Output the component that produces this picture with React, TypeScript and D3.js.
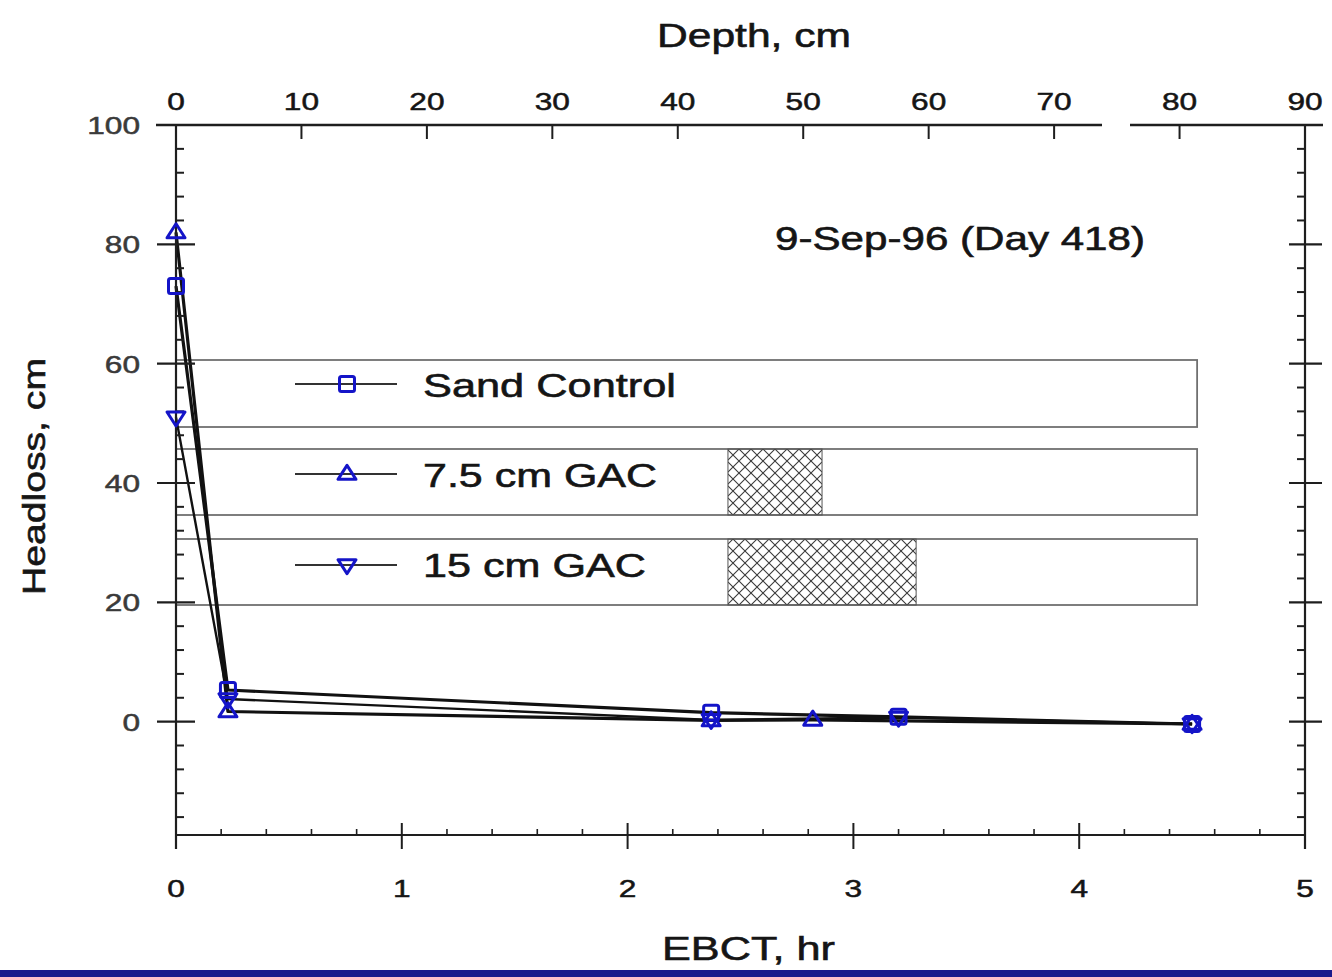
import React from "react";
import * as d3 from "d3";

// ---- data ----
const ebctTicks = [0, 1, 2, 3, 4, 5];
const depthTicks = [0, 10, 20, 30, 40, 50, 60, 70, 80, 90];
const headlossTicks = [0, 20, 40, 60, 80, 100];

const seriesNames = ["Sand Control", "7.5 cm GAC", "15 cm GAC"];
const seriesMarkers = ["square", "triangleUp", "triangleDown"];

const sandEBCT = [0, 0.23, 2.37, 3.2, 4.5];
const sandHeadloss = [73, 5.3, 1.5, 0.8, -0.4];
const gac75EBCT = [0, 0.23, 2.37, 2.82, 4.5];
const gac75Headloss = [82, 1.7, 0.2, 0.3, -0.4];
const gac15EBCT = [0, 0.23, 2.37, 3.2, 4.5];
const gac15Headloss = [51, 3.8, 0.3, 0.7, -0.4];

// column diagram (depth, cm)
const columnDepth = 81.4;
const gacTop = 44;
const gacLengths = [0, 7.5, 15];

const dateLabel = "9-Sep-96 (Day 418)";

// ---- layout ----
const W = 1332;
const H = 977;
const L = 176, R = 1305, T = 125, B = 835;

const x = d3.scaleLinear().domain([0, 5]).range([L, R]);
const xDepth = d3.scaleLinear().domain([0, 90]).range([L, R]);
const y = d3.scaleLinear().domain([-19, 100]).range([B, T]);

const BLUE = "#1414c8";
const AX = "#1e1e1e";
const FONT = "'Liberation Sans', Arial, Helvetica, sans-serif";

function Marker({ type, cx, cy }: { type: string; cx: number; cy: number }) {
  if (type === "square") {
    const s = 15;
    return <rect x={cx - s / 2} y={cy - s / 2} width={s} height={s} rx={2} fill="none" stroke={BLUE} strokeWidth={3} />;
  }
  const w = 18, h = 14;
  const pts =
    type === "triangleUp"
      ? `${cx},${cy - h * 0.62} ${cx - w / 2},${cy + h * 0.38} ${cx + w / 2},${cy + h * 0.38}`
      : `${cx},${cy + h * 0.62} ${cx - w / 2},${cy - h * 0.38} ${cx + w / 2},${cy - h * 0.38}`;
  return <polygon points={pts} fill="none" stroke={BLUE} strokeWidth={3} strokeLinejoin="round" />;
}

function FitText({ x0, x1, baseline, text, size, fill = "#151515" }: any) {
  return (
    <text x={x0} y={baseline} fontSize={size} fontFamily={FONT} fill={fill}
      stroke={fill} strokeWidth={0.6}
      textLength={x1 - x0} lengthAdjust="spacingAndGlyphs">{text}</text>
  );
}

export default function App() {
  const series = [
    { e: sandEBCT, h: sandHeadloss },
    { e: gac75EBCT, h: gac75Headloss },
    { e: gac15EBCT, h: gac15Headloss },
  ];
  const line = d3.line<[number, number]>().x(d => x(d[0])).y(d => y(d[1]));

  const hlMinor = d3.range(-16, 100, 4).filter(v => v % 20 !== 0);
  const ebMinor = d3.range(0.2, 5, 0.2).filter(v => Math.abs(v - Math.round(v)) > 0.01);

  const boxes = [
    { top: 360, bottom: 427, lineY: 384, base: 397, tx1: 676 },
    { top: 449, bottom: 515, lineY: 474, base: 487, tx1: 657 },
    { top: 539, bottom: 605, lineY: 565, base: 577, tx1: 646 },
  ];

  return (
    <svg width={W} height={H} style={{ position: "absolute", left: 0, top: 0, background: "#fff" }}>
      <defs>
        <pattern id="xhatch" patternUnits="userSpaceOnUse" width={12} height={12} x={727} y={449}>
          <path d="M0,0 L12,12 M12,0 L0,12" stroke="#3a3a3a" strokeWidth={1.1} />
        </pattern>
      </defs>
      <rect x={0} y={0} width={W} height={H} fill="#fff" />

      {/* column diagram / legend boxes */}
      {boxes.map((b, i) => (
        <g key={"box" + i}>
          <rect x={xDepth(0)} y={b.top} width={xDepth(columnDepth) - xDepth(0)} height={b.bottom - b.top}
            fill="none" stroke="#707070" strokeWidth={1.8} />
          {gacLengths[i] > 0 && (
            <rect x={xDepth(gacTop)} y={b.top} width={xDepth(gacTop + gacLengths[i]) - xDepth(gacTop)}
              height={b.bottom - b.top} fill="url(#xhatch)" stroke="#555" strokeWidth={1} />
          )}
          <line x1={295} x2={397} y1={b.lineY} y2={b.lineY} stroke="#333" strokeWidth={2} />
          <Marker type={seriesMarkers[i]} cx={347} cy={b.lineY} />
          <FitText x0={423} x1={b.tx1} baseline={b.base} text={seriesNames[i]} size={34} />
        </g>
      ))}

      {/* data lines */}
      {series.map((s, i) => (
        <path key={"l" + i} d={line(s.e.map((e, j) => [e, s.h[j]] as [number, number])) || ""}
          fill="none" stroke="#111" strokeWidth={i === 2 ? 2.4 : 3.2} strokeLinejoin="round" />
      ))}

      {/* axes */}
      <line x1={L} x2={L} y1={T} y2={B + 14} stroke={AX} strokeWidth={2.2} />
      <line x1={R} x2={R} y1={T} y2={B + 14} stroke={AX} strokeWidth={2.2} />
      <line x1={L} x2={R} y1={B} y2={B} stroke={AX} strokeWidth={2} />
      <line x1={L - 20} x2={1102} y1={T} y2={T} stroke={AX} strokeWidth={2.4} />
      <line x1={1130} x2={R + 18} y1={T} y2={T} stroke={AX} strokeWidth={2.4} />

      {headlossTicks.map(v => (
        <g key={"hy" + v}>
          <line x1={L - 19} x2={L + 19} y1={y(v)} y2={y(v)} stroke={AX} strokeWidth={2.2} />
          <line x1={R - 16} x2={R + 17} y1={y(v)} y2={y(v)} stroke={AX} strokeWidth={2.2} />
          <text transform={`translate(${L - 36},${y(v) + 9}) scale(1.32,1)`} textAnchor="end"
            fontSize={24} fontFamily={FONT} fill="#3a3a3a" stroke="#3a3a3a" strokeWidth={0.5}>{v}</text>
        </g>
      ))}
      {hlMinor.map(v => (
        <g key={"hm" + v}>
          <line x1={L} x2={L + 8} y1={y(v)} y2={y(v)} stroke={AX} strokeWidth={2} />
          <line x1={R - 8} x2={R} y1={y(v)} y2={y(v)} stroke={AX} strokeWidth={2} />
        </g>
      ))}

      {ebctTicks.map(v => (
        <g key={"ex" + v}>
          <line x1={x(v)} x2={x(v)} y1={B - 12} y2={B + 14} stroke={AX} strokeWidth={2} />
          <text transform={`translate(${x(v)},${B + 62}) scale(1.32,1)`} textAnchor="middle"
            fontSize={24} fontFamily={FONT} fill="#151515" stroke="#151515" strokeWidth={0.5}>{v}</text>
        </g>
      ))}
      {ebMinor.map(v => (
        <line key={"em" + v} x1={x(v)} x2={x(v)} y1={B - 6} y2={B} stroke={AX} strokeWidth={1.6} />
      ))}

      {depthTicks.map(v => (
        <g key={"dx" + v}>
          <line x1={xDepth(v)} x2={xDepth(v)} y1={T} y2={T + 14} stroke={AX} strokeWidth={2} />
          <text transform={`translate(${xDepth(v)},${T - 15}) scale(1.32,1)`} textAnchor="middle"
            fontSize={24} fontFamily={FONT} fill="#151515" stroke="#151515" strokeWidth={0.5}>{v}</text>
        </g>
      ))}

      {/* markers */}
      {series.map((s, i) =>
        s.e.map((e, j) => <Marker key={"m" + i + "-" + j} type={seriesMarkers[i]} cx={x(e)} cy={y(s.h[j])} />)
      )}

      {/* titles */}
      <FitText x0={657} x1={851} baseline={47} text="Depth, cm" size={34} />
      <FitText x0={662} x1={835} baseline={960} text="EBCT, hr" size={34} />
      <FitText x0={775} x1={1145} baseline={250} text={dateLabel} size={33} />
      <g transform="translate(45,595) rotate(-90)">
        <text x={0} y={0} fontSize={32} fontFamily={FONT} fill="#151515" stroke="#151515" strokeWidth={0.6}
          textLength={237} lengthAdjust="spacingAndGlyphs">Headloss, cm</text>
      </g>

      {/* bottom frame bar */}
      <rect x={0} y={970} width={W} height={7} fill="#1a1a8c" />
    </svg>
  );
}
